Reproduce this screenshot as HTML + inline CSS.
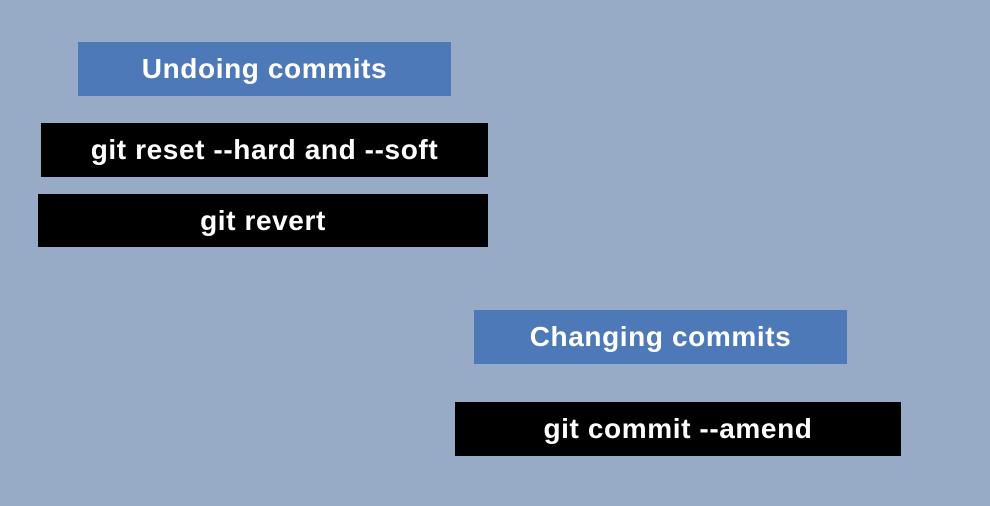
<!DOCTYPE html>
<html><head><meta charset="utf-8"><style>
html,body{margin:0;padding:0}
body{width:990px;height:506px;background:#97abc6;position:relative;overflow:hidden;font-family:"Liberation Sans",sans-serif}
.b{position:absolute;display:flex;align-items:center;justify-content:center;color:#fff;font-weight:bold;font-size:28px;letter-spacing:0.6px;box-sizing:border-box}
.blue{background:#4e79b8}
.black{background:#000}
</style></head><body>
<div class="b blue" style="left:78px;top:42px;width:373px;height:54px">Undoing commits</div>
<div class="b black" style="left:41px;top:123px;width:447px;height:54px">git reset --hard and --soft</div>
<div class="b black" style="left:38px;top:194px;width:450px;height:53px">git revert</div>
<div class="b blue" style="left:474px;top:310px;width:373px;height:54px">Changing commits</div>
<div class="b black" style="left:455px;top:402px;width:446px;height:54px">git commit --amend</div>
</body></html>
